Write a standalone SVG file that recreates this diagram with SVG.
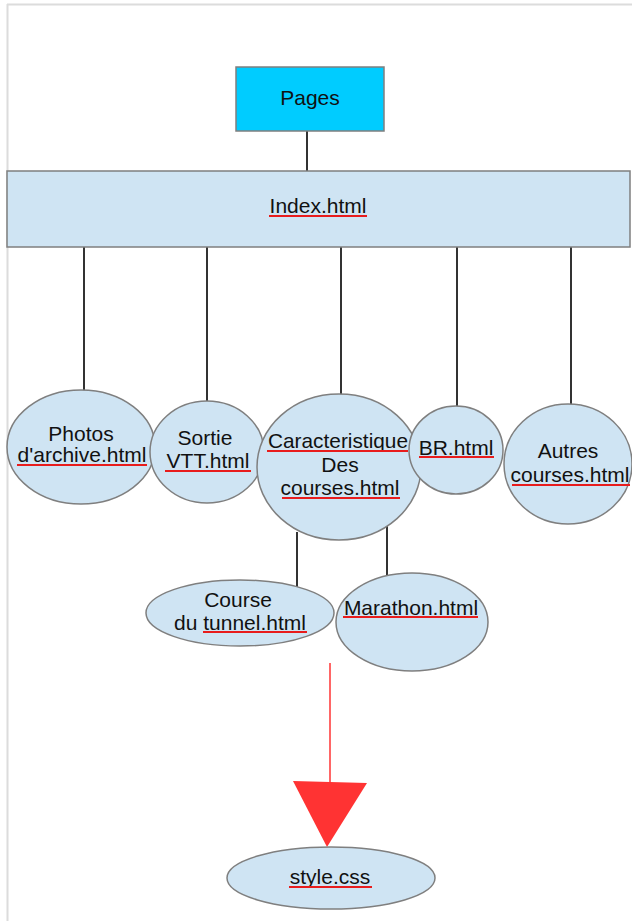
<svg xmlns="http://www.w3.org/2000/svg" width="632" height="921" viewBox="0 0 632 921">
<style>
.sh{fill:#cfe4f3;stroke:#7f7f7f;stroke-width:1.5}
.c{stroke:#333;stroke-width:2;fill:none}
.t{font-family:"Liberation Sans",Arial,sans-serif;font-size:21px;fill:#111;text-anchor:middle}
.u{stroke:#e81c1c;stroke-width:2}
</style>
<rect width="632" height="921" fill="#fff"/>
<line x1="7" y1="4.5" x2="632" y2="4.5" stroke="#dcdcdc" stroke-width="2"/>
<line x1="7.5" y1="4" x2="7.5" y2="921" stroke="#dcdcdc" stroke-width="2"/>
<g id="connectors">
<line class="c" x1="307" y1="129" x2="307" y2="171"/>
<line class="c" x1="84" y1="244" x2="84" y2="391"/>
<line class="c" x1="207" y1="247" x2="207" y2="402"/>
<line class="c" x1="341" y1="247" x2="341" y2="395"/>
<line class="c" x1="457" y1="247" x2="457" y2="407"/>
<line class="c" x1="571" y1="247" x2="571" y2="405"/>
<line class="c" x1="297" y1="532" x2="297" y2="587"/>
<line class="c" x1="387" y1="526" x2="387" y2="575"/>
<line x1="330" y1="663" x2="330" y2="783" stroke="#ff3333" stroke-width="1.5"/>
<polygon points="293,781 367,783 327,847" fill="#ff3333"/>
</g>
<g id="pages">
<rect x="236" y="67" width="148" height="64" fill="#00ccff" stroke="#7f7f7f" stroke-width="1.5"/>
<text class="t" x="310" y="105">Pages</text>
</g>
<g id="index">
<rect class="sh" x="7" y="171" width="623" height="76"/>
<text class="t" x="318" y="213">Index.html</text>
</g>
<g id="photos">
<ellipse class="sh" cx="81" cy="447" rx="74" ry="57"/>
<text class="t" x="81" y="441">Photos</text>
<text class="t" x="82" y="462">d'archive.html</text>
</g>
<g id="sortie">
<ellipse class="sh" cx="207" cy="452" rx="57" ry="51"/>
<text class="t" x="205" y="445">Sortie</text>
<text class="t" x="208" y="468">VTT.html</text>
</g>
<g id="caracteristique">
<ellipse class="sh" cx="339" cy="467" rx="82" ry="73"/>
<text class="t" x="338" y="448" textLength="140" lengthAdjust="spacingAndGlyphs">Caracteristique</text>
<text class="t" x="340" y="472">Des</text>
<text class="t" x="340" y="495">courses.html</text>
</g>
<g id="br">
<ellipse class="sh" cx="456" cy="450" rx="47" ry="44"/>
<text class="t" x="456" y="455">BR.html</text>
</g>
<g id="autres">
<ellipse class="sh" cx="568" cy="464" rx="64" ry="60"/>
<text class="t" x="568" y="458">Autres</text>
<text class="t" x="570" y="482">courses.html</text>
</g>
<g id="tunnel">
<ellipse class="sh" cx="240" cy="613" rx="94" ry="33"/>
<text class="t" x="238" y="607">Course</text>
<text class="t" x="240" y="630">du tunnel.html</text>
</g>
<g id="marathon">
<ellipse class="sh" cx="412" cy="622" rx="76" ry="49"/>
<text class="t" x="411" y="615">Marathon.html</text>
</g>
<g id="style">
<ellipse class="sh" cx="331" cy="878" rx="104" ry="31"/>
<text class="t" x="330" y="884">style.css</text>
</g>
<g id="spellcheck">
<line class="u" x1="269" y1="216" x2="367" y2="216"/>
<line class="u" x1="17" y1="465" x2="147" y2="465"/>
<line class="u" x1="165" y1="471" x2="251" y2="471"/>
<line class="u" x1="267" y1="451" x2="408" y2="451"/>
<line class="u" x1="282" y1="498" x2="400" y2="498"/>
<line class="u" x1="419" y1="457" x2="494" y2="457"/>
<line class="u" x1="512" y1="485" x2="630" y2="485"/>
<line class="u" x1="203" y1="632" x2="307" y2="632"/>
<line class="u" x1="343" y1="617" x2="478" y2="617"/>
<line class="u" x1="289" y1="887" x2="372" y2="887"/>
</g>
</svg>
